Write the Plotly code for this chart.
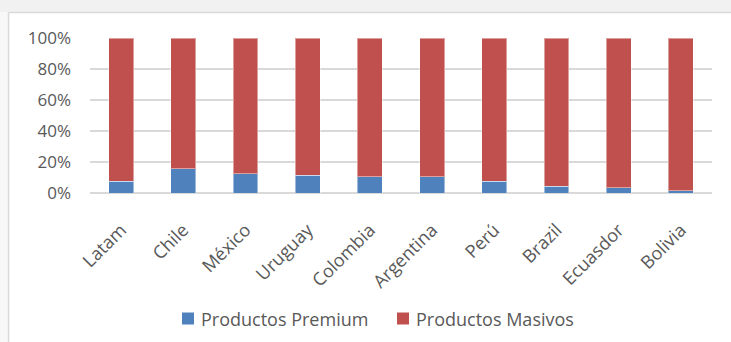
import plotly.graph_objects as go

categories = ["Latam", "Chile", "México", "Uruguay", "Colombia", "Argentina", "Perú", "Brazil", "Ecuasdor", "Bolivia"]
premium = [7.5, 15.5, 12.5, 11.5, 10.5, 10.5, 7.5, 4.5, 3.5, 1.5]
masivos = [100 - v for v in premium]
tick_vals = [0, 20, 40, 60, 80, 100]
tick_text = ["0%", "20%", "40%", "60%", "80%", "100%"]
series_names = ["Productos Premium", "Productos Masivos"]
series_colors = ["#4f81bd", "#c0504d"]

W, H = 731, 342
L, R, T, B = 90, 19, 38, 149
PW, PH = W - L - R, H - T - B

def px(x):
    return (x - L) / PW

def py(y):
    return (H - B - y) / PH

font = "Open Sans"
grey = "#595959"

fig = go.Figure()
for vals, name, col in zip([premium, masivos], series_names, series_colors):
    fig.add_bar(x=categories, y=vals, name=name, showlegend=False,
                marker=dict(color=col, line=dict(color="rgba(255,255,255,0.45)", width=1)))

shapes = [
    dict(type="rect", xref="paper", yref="paper", x0=px(0), x1=px(W), y0=py(12), y1=py(0),
         fillcolor="#f1f1f1", line=dict(width=0), layer="below"),
    dict(type="rect", xref="paper", yref="paper", x0=px(0), x1=px(8), y0=py(H), y1=py(12),
         fillcolor="#f8f8f8", line=dict(width=0), layer="below"),
    dict(type="line", xref="paper", yref="paper", x0=px(8.5), x1=px(W), y0=py(12.5), y1=py(12.5),
         line=dict(color="#d9d9d9", width=1.5)),
    dict(type="line", xref="paper", yref="paper", x0=px(8.5), x1=px(8.5), y0=py(12.5), y1=py(H),
         line=dict(color="#d9d9d9", width=1.5)),
]

# manual legend (symbols + labels)
legend_items = [(182, 199), (397, 414)]
annotations = []
for (sx, tx), name, col in zip(legend_items, series_names, series_colors):
    shapes.append(dict(type="rect", xref="paper", yref="paper", x0=px(sx), x1=px(sx + 12),
                       y0=py(324.5), y1=py(312.5), fillcolor=col, line=dict(width=0)))
    annotations.append(dict(xref="paper", yref="paper", x=px(tx), y=py(318.5), xanchor="left",
                            yanchor="middle", text=name, showarrow=False,
                            font=dict(family=font, size=18, color=grey)))

fig.update_layout(
    barmode="stack",
    bargap=0.6,
    width=W, height=H,
    margin=dict(l=L, r=R, t=T, b=B, autoexpand=False),
    paper_bgcolor="white",
    plot_bgcolor="white",
    font=dict(family=font, size=17, color=grey),
    shapes=shapes,
    annotations=annotations,
    showlegend=False,
    xaxis=dict(tickangle=-45, showgrid=False, showline=False, ticks="", automargin=False,
               tickfont=dict(family=font, size=18, color=grey), ticklabelstandoff=22),
    yaxis=dict(range=[0, 100], tickvals=tick_vals, ticktext=tick_text, showgrid=True,
               gridcolor="#d9d9d9", gridwidth=1.5, zeroline=True, zerolinecolor="#d9d9d9",
               zerolinewidth=1.5, ticks="", automargin=False,
               tickfont=dict(family=font, size=17, color=grey), ticklabelstandoff=18),
)

fig.write_html("out.html")
